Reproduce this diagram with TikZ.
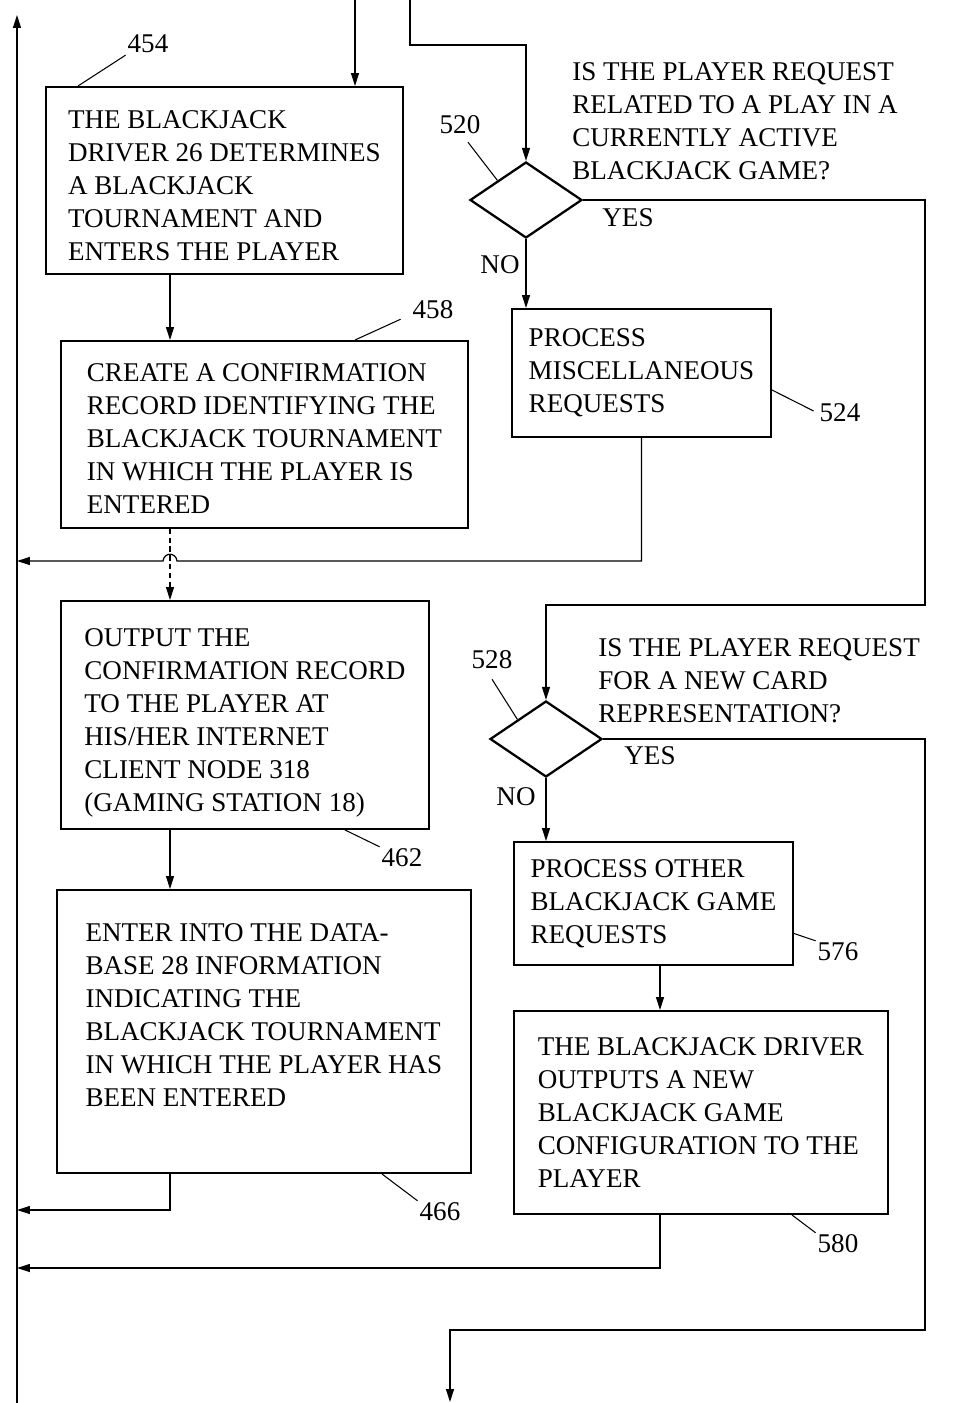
\documentclass[tikz,border=0pt]{standalone}
\usepackage{fontspec}
\setmainfont{Liberation Serif}
\usetikzlibrary{arrows.meta,shapes.geometric,calc,positioning}

\newcommand{\firstrow}[1]{\rule{0pt}{#1}}

\begin{document}
\begin{tikzpicture}[
    x=0.02cm, y=-0.02cm,
    font=\fontsize{15.4}{18.8}\selectfont,
    box/.style={rectangle, draw, line width=1.1pt, align=left, anchor=north west, inner sep=0pt},
    decision/.style={diamond, draw, line width=1.3pt, inner sep=0pt, minimum width=2.24cm, minimum height=1.52cm},
    question/.style={align=left, anchor=north west, inner sep=0pt},
    ref/.style={inner sep=1pt},
    leader/.style={line width=0.6pt},
    arrow/.style={-{Triangle[length=0.26cm,width=0.16cm]}, line width=0.7pt}
]
    \useasboundingbox (0,0) rectangle (954,1403);

    % left column
    \node[box, minimum width=7.14cm, minimum height=3.74cm] (b454) at (45,86)
        {\firstrow{15.9pt}THE BLACKJACK\\DRIVER 26 DETERMINES\\A BLACKJACK\\TOURNAMENT AND\\ENTERS THE PLAYER};
    \node[box, minimum width=8.14cm, minimum height=3.74cm] (b458) at (60,340)
        {\firstrow{14.8pt}CREATE A CONFIRMATION\\RECORD IDENTIFYING THE\\BLACKJACK TOURNAMENT\\IN WHICH THE PLAYER IS\\ENTERED};
    \node[box, minimum width=7.36cm, minimum height=4.56cm] (b462) at (60,600)
        {\firstrow{19.3pt}OUTPUT THE\\CONFIRMATION RECORD\\TO THE PLAYER AT\\HIS/HER INTERNET\\CLIENT NODE 318\\(GAMING STATION 18)};
    \node[box, minimum width=8.28cm, minimum height=5.66cm] (b466) at (56,889)
        {ENTER INTO THE DATA-\\BASE 28 INFORMATION\\INDICATING THE\\BLACKJACK TOURNAMENT\\IN WHICH THE PLAYER HAS\\BEEN ENTERED\\[0pt]};

    % right column
    \node[decision] (d520) at (526,200) {};
    \node[question] (q520) at (572,62)
        {IS THE PLAYER REQUEST\\RELATED TO A PLAY IN A\\CURRENTLY ACTIVE\\BLACKJACK GAME?};
    \node[box, minimum width=5.18cm, minimum height=2.56cm] (b524) at (511,308)
        {PROCESS\\MISCELLANEOUS\\REQUESTS};
    \node[decision] (d528) at (546,739) {};
    \node[question] (q528) at (598,638)
        {IS THE PLAYER REQUEST\\FOR A NEW CARD\\REPRESENTATION?};
    \node[box, minimum width=5.58cm, minimum height=2.46cm] (b576) at (513,841)
        {PROCESS OTHER\\BLACKJACK GAME\\REQUESTS};
    \node[box, minimum width=7.48cm, minimum height=4.06cm] (b580) at (513,1010)
        {THE BLACKJACK DRIVER\\OUTPUTS A NEW\\BLACKJACK GAME\\CONFIGURATION TO THE\\PLAYER};

    % branch labels
    \node (yes520) at (628,218) {YES};
    \node (no520) at (500,265) {NO};
    \node (yes528) at (650,756) {YES};
    \node (no528) at (516,797) {NO};

    % reference numerals
    \node[ref] (l454) at (148,44) {454};
    \node[ref] (l458) at (433,310) {458};
    \node[ref] (l462) at (402,858) {462};
    \node[ref] (l466) at (440,1212) {466};
    \node[ref] (l520) at (460,125) {520};
    \node[ref] (l524) at (840,413) {524};
    \node[ref] (l528) at (492,660) {528};
    \node[ref] (l576) at (838,952) {576};
    \node[ref] (l580) at (838,1244) {580};

    \draw[leader] ($(b454.north west)+(33,0)$) -- (l454.south west);
    \draw[leader] ($(b458.north west)+(295,0)$) -- ($(l458.south west)+(-10,-2)$);
    \draw[leader] ($(b462.south east)+(-85,0)$) -- (l462.north west);
    \draw[leader] ($(b466.south east)+(-90,0)$) -- (l466.north west);
    \draw[leader] ($(l520.south)+(8,6)$) -- (d520.north west);
    \draw[leader] ($(b524.east)+(0,17)$) -- ($(l524.west)+(-4,-2)$);
    \draw[leader] ($(l528.south)+(0,8)$) -- (d528.north west);
    \draw[leader] ($(b576.east)+(0,30)$) -- (l576.north west);
    \draw[leader] ($(b580.south east)+(-97,0)$) -- (l580.north west);

    % helper points
    \coordinate (in1) at (355,0);
    \coordinate (in2) at (410,0);
    \coordinate (bend2) at (410,45);
    \coordinate (upbot) at (17,1403);
    \coordinate (uptop) at (17,15);
    \coordinate (colL) at (170,0);
    \coordinate (colR) at (660,0);
    \coordinate (ret1) at (17,561);
    \coordinate (ret2) at (17,1210);
    \coordinate (ret3) at (17,1268);
    \coordinate (rail1) at (925,605);
    \coordinate (rail2) at (925,1330);
    \coordinate (out) at (450,1402);

    % connectors
    \draw[arrow] (upbot) -- (uptop);
    \draw[arrow] (in1) -- (in1 |- b454.north);
    \draw[arrow] (in2) -- (bend2) -| (d520.north);
    \draw[arrow] (b454.south -| colL) -- (b458.north -| colL);
    \draw[arrow, densely dashed] (b458.south -| colL) -- (b462.north -| colL);
    \draw[arrow] (b462.south -| colL) -- (b466.north -| colL);
    \draw[arrow] (b466.south -| colL) |- (ret2);
    \draw[arrow] (b524.south) |- ($(colL |- ret1)+(7,0)$)
        .. controls +(-1,-9) and +(1,-9) .. ($(colL |- ret1)+(-7,0)$) -- (ret1);
    \draw[arrow] (d520.south) -- (d520.south |- b524.north);
    \draw[arrow] (d520.east) -| (rail1) -| (d528.north);
    \draw[arrow] (d528.south) -- (d528.south |- b576.north);
    \draw[arrow] (d528.east) -| (rail2) -| (out);
    \draw[arrow] (b576.south -| colR) -- (b580.north -| colR);
    \draw[arrow] (b580.south -| colR) |- (ret3);
\end{tikzpicture}
\end{document}
